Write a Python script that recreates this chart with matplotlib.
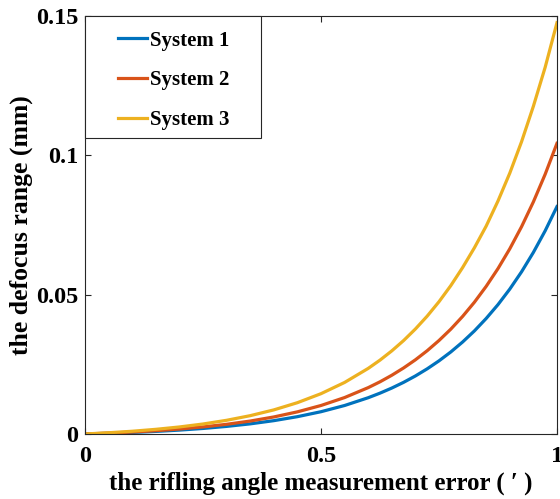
import matplotlib
matplotlib.use("Agg")
import matplotlib.pyplot as plt
from matplotlib.patches import Rectangle

plt.rcParams['font.family'] = ['Liberation Serif', 'DejaVu Serif']
plt.rcParams['font.weight'] = 'bold'

# rifling angle measurement error (')
x = [0.00, 0.05, 0.10, 0.15, 0.20, 0.25, 0.30, 0.35, 0.40, 0.45, 0.50,
     0.55, 0.60, 0.625, 0.65, 0.675, 0.70, 0.725, 0.75, 0.775, 0.80,
     0.825, 0.85, 0.875, 0.90, 0.925, 0.95, 0.975, 1.00]
# defocus range (mm)
sys1 = [0.0, 0.00024, 0.00054, 0.00092, 0.00139, 0.00198, 0.00272, 0.00363,
        0.00478, 0.00621, 0.00799, 0.01022, 0.01301, 0.01465, 0.01648,
        0.01853, 0.02082, 0.02338, 0.02624, 0.02943, 0.03300, 0.03698,
        0.04145, 0.04642, 0.05199, 0.05821, 0.06516, 0.07292, 0.0816]
sys2 = [0.0, 0.00031, 0.00070, 0.00118, 0.00178, 0.00253, 0.00347, 0.00464,
        0.00611, 0.00794, 0.01022, 0.01307, 0.01663, 0.01872, 0.02107,
        0.02369, 0.02661, 0.02988, 0.03354, 0.03761, 0.04218, 0.04727,
        0.05298, 0.05934, 0.06645, 0.07440, 0.08329, 0.09321, 0.1043]
sys3 = [0.0, 0.00044, 0.00098, 0.00167, 0.00252, 0.00358, 0.00491, 0.00657,
        0.00864, 0.01123, 0.01446, 0.01849, 0.02353, 0.02650, 0.02982,
        0.03352, 0.03767, 0.04229, 0.04746, 0.05323, 0.05970, 0.06680,
        0.07460, 0.08360, 0.09360, 0.10490, 0.11760, 0.13160, 0.1476]
labels = ['System 1', 'System 2', 'System 3']
colors = ['#0072BD', '#D95319', '#EDB120']

xticks = [0, 0.5, 1]
xticklabels = ['0', '0.5', '1']
yticks = [0, 0.05, 0.1, 0.15]
yticklabels = ['0', '0.05', '0.1', '0.15']

fig = plt.figure(figsize=(5.6, 4.99), dpi=100)
ax = fig.add_axes([0.1518, 0.1303, 0.8428, 0.8377])

for y, lab, c in zip([sys1, sys2, sys3], labels, colors):
    ax.plot(x, y, color=c, lw=2.3, label=lab)

ax.set_xlim(0, 1)
ax.set_ylim(0, 0.15)
ax.set_xticks(xticks)
ax.set_xticklabels(xticklabels)
ax.set_yticks(yticks)
ax.set_yticklabels(yticklabels)
ax.tick_params(direction='in', length=4, width=0.8, color='#262626',
               top=True, right=True, labelsize=17.5)
ax.tick_params(axis='x', pad=9)
ax.tick_params(axis='y', pad=5)
for s in ax.spines.values():
    s.set_color('#262626')
    s.set_linewidth(0.8)

ax.set_xlabel("the rifling angle measurement error ( \u2032 )", fontsize=18,
              fontweight='bold', labelpad=3)
ax.set_ylabel("the defocus range (mm)", fontsize=18.5, fontweight='bold',
              labelpad=2)

# legend box (frame drawn separately to get the wide side padding)
ax.add_patch(Rectangle((0, 0.708), 0.373, 0.292, transform=ax.transAxes,
                       facecolor='white', edgecolor='#262626', lw=0.8,
                       zorder=3, clip_on=False))
leg = ax.legend(loc='upper left', bbox_to_anchor=(0.07, 0.965),
                borderaxespad=0, borderpad=0, frameon=False, fontsize=15,
                handlelength=1.4, handletextpad=0.15, labelspacing=0.95)
leg.set_zorder(4)
for t in leg.get_texts():
    t.set_fontweight('bold')

fig.savefig('out.png', dpi=100)
